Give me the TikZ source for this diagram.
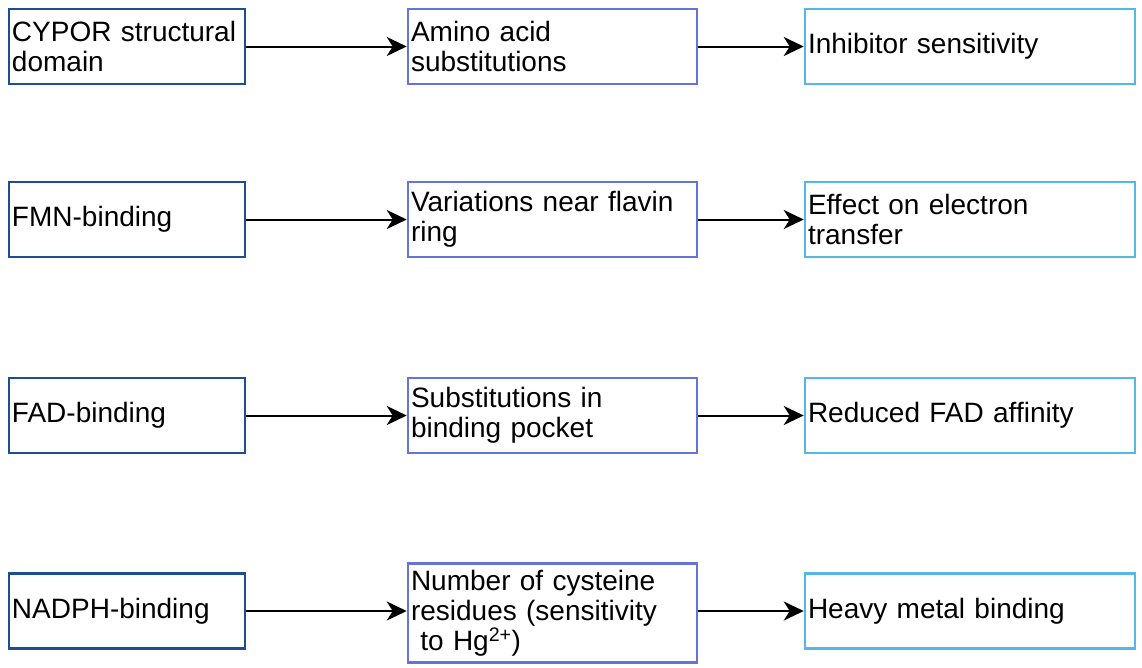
\documentclass[tikz,border=0pt]{standalone}
\usepackage{fontspec}
\setmainfont{Liberation Sans}
\usetikzlibrary{positioning,arrows.meta}

\definecolor{domblue}{HTML}{1B4F8F}
\definecolor{varblue}{HTML}{6574DA}
\definecolor{effblue}{HTML}{55B6E8}

\tikzset{
  box/.style={draw, line width=2.5pt, align=left, inner xsep=3pt, inner ysep=0pt,
    minimum height=75pt, font=\fontsize{28}{30}\selectfont},
  dom/.style={box, draw=domblue, text width=230pt},
  var/.style={box, draw=varblue, text width=283pt},
  eff/.style={box, draw=effblue, text width=324pt},
  link/.style={line width=2pt, -{Stealth[length=20pt,width=19pt,inset=6pt]}}
}

\begin{document}
\begin{tikzpicture}[x=1pt,y=1pt]
      \useasboundingbox (0,0) rectangle (1142,-667);

      % domains
      \node[dom] (d1) at (127,-46.5)  {CYPOR structural\\domain};
      \node[dom] (d2) at (127,-219.5) {FMN-binding};
      \node[dom] (d3) at (127,-415.5) {FAD-binding};
      \node[dom] (d4) at (127,-611)   {NADPH-binding};

      % variations
      \node[var] (v1) at (552.5,-46.5)  {Amino acid\\substitutions};
      \node[var] (v2) at (552.5,-219.5) {Variations near flavin\\ring};
      \node[var] (v3) at (552.5,-415.5) {Substitutions in\\binding pocket};
      \node[var, minimum height=99pt] (v4) at (552.5,-613)
        {Number of cysteine\\residues (sensitivity\\\ to Hg\textsuperscript{2+})};

      % effects
      \node[eff] (e1) at (970,-46.5)  {Inhibitor sensitivity};
      \node[eff] (e2) at (970,-219.5) {Effect on electron\\transfer};
      \node[eff] (e3) at (970,-415.5) {Reduced FAD affinity};
      \node[eff] (e4) at (970,-611)   {Heavy metal binding};

      \foreach \i in {1,...,4} {
        \draw[link] (d\i.east) -- (v\i.west |- d\i.east);
        \draw[link] (v\i.east |- e\i.west) -- (e\i.west);
      }
\end{tikzpicture}
\end{document}
